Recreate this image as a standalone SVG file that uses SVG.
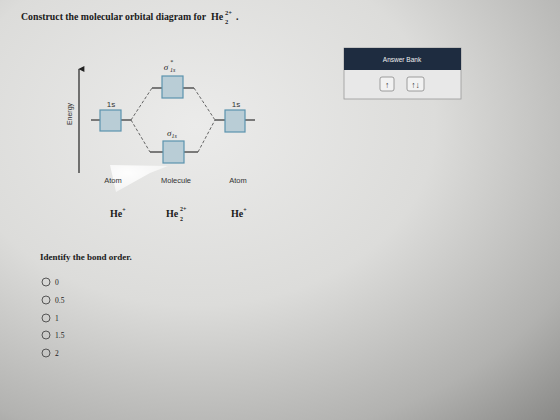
<svg xmlns="http://www.w3.org/2000/svg" width="560" height="420" viewBox="0 0 560 420">
<defs>
<radialGradient id="bg" cx="0.35" cy="0.3" r="0.95">
<stop offset="0" stop-color="#ebebea"/>
<stop offset="0.45" stop-color="#dcdcda"/>
<stop offset="0.8" stop-color="#b2b2b0"/>
<stop offset="1" stop-color="#8a8a88"/>
</radialGradient>
<radialGradient id="glare" cx="0.3" cy="0.3" r="0.8">
<stop offset="0" stop-color="#ffffff" stop-opacity="0.95"/>
<stop offset="1" stop-color="#ffffff" stop-opacity="0.5"/>
</radialGradient>
<marker id="ah" viewBox="0 0 10 10" refX="5" refY="1" markerWidth="6" markerHeight="8" orient="auto-start-reverse" markerUnits="userSpaceOnUse">
<path d="M0,10 L5,0 L10,10 Z" fill="#222"/>
</marker>
<style>
.serif{font-family:"Liberation Serif","Times New Roman",serif;fill:#1a1a1a}
.sans{font-family:"Liberation Sans",Arial,sans-serif;fill:#333}
.box{fill:#b9cdd6;stroke:#5b93ad;stroke-width:1.2}
.lvl{stroke:#555;stroke-width:1.3}
.dash{stroke:#555;stroke-width:0.9;stroke-dasharray:3,2;fill:none}
.radio{fill:none;stroke:#555;stroke-width:1}
.btn{fill:#f2f2f2;stroke:#888;stroke-width:0.8}
</style>
</defs>
<rect x="0" y="0" width="560" height="420" fill="url(#bg)"/>
<text class="serif" x="21" y="20" font-size="9.8" font-weight="bold">Construct the molecular orbital diagram for</text>
<text class="serif" x="211" y="20" font-size="10" font-weight="bold">He</text>
<text class="serif" x="225" y="15" font-size="6.5" font-weight="bold">2+</text>
<text class="serif" x="225" y="24" font-size="6.5" font-weight="bold">2</text>
<text class="serif" x="236" y="20" font-size="10" font-weight="bold">.</text>

<g id="energy-axis">
<line x1="79" y1="173" x2="79" y2="69" stroke="#222" stroke-width="1.2" marker-end="url(#ah)"/>
<text class="sans" x="72" y="114" font-size="7" text-anchor="middle" transform="rotate(-90 72 114)">Energy</text>
</g>

<g id="connectors">
<path class="dash" d="M131,120 L152,88"/>
<path class="dash" d="M131,120 L150,152"/>
<path class="dash" d="M194,88 L215,120"/>
<path class="dash" d="M198,152 L215,120"/>
</g>

<g id="atom-left-1s">
<line class="lvl" x1="91" y1="120" x2="131" y2="120"/>
<rect class="box" x="100" y="110" width="21" height="21"/>
<text class="sans" x="111" y="107" font-size="8" text-anchor="middle">1s</text>
</g>
<g id="sigma-star-1s">
<line class="lvl" x1="152" y1="88" x2="194" y2="88"/>
<rect class="box" x="162" y="76" width="21" height="22"/>
<text class="serif" x="166" y="70" font-size="9" font-style="italic" text-anchor="middle">σ</text>
<text class="serif" x="170" y="64" font-size="6" font-style="italic">*</text>
<text class="serif" x="170" y="72" font-size="6" font-style="italic">1s</text>
</g>
<g id="sigma-1s">
<line class="lvl" x1="150" y1="152" x2="198" y2="152"/>
<rect class="box" x="163" y="141" width="21" height="22"/>
<text class="serif" x="172" y="136" font-size="9" font-style="italic" text-anchor="middle">σ<tspan font-size="6" dy="2">1s</tspan></text>
</g>
<g id="atom-right-1s">
<line class="lvl" x1="215" y1="120" x2="255" y2="120"/>
<rect class="box" x="225" y="110" width="20" height="22"/>
<text class="sans" x="236" y="107" font-size="8" text-anchor="middle">1s</text>
</g>

<polygon points="110,165 168,166 150,173 116,192" fill="url(#glare)"/>

<text class="sans" x="113" y="183" font-size="7.5" text-anchor="middle">Atom</text>
<text class="sans" x="176" y="183" font-size="7.5" text-anchor="middle">Molecule</text>
<text class="sans" x="238" y="183" font-size="7.5" text-anchor="middle">Atom</text>

<text class="serif" x="110" y="217" font-size="10" font-weight="bold">He<tspan font-size="6" dy="-5">+</tspan></text>
<text class="serif" x="166" y="217" font-size="10" font-weight="bold">He</text>
<text class="serif" x="180" y="211" font-size="6" font-weight="bold">2+</text>
<text class="serif" x="180" y="221" font-size="6" font-weight="bold">2</text>
<text class="serif" x="231" y="217" font-size="10" font-weight="bold">He<tspan font-size="6" dy="-5">+</tspan></text>

<text class="serif" x="40" y="260" font-size="9" font-weight="bold">Identify the bond order.</text>
<g id="options">
<circle class="radio" cx="46" cy="282" r="4"/><text class="serif" x="55" y="285" font-size="7.5">0</text>
<circle class="radio" cx="46" cy="300" r="4"/><text class="serif" x="55" y="303" font-size="7.5">0.5</text>
<circle class="radio" cx="46" cy="318" r="4"/><text class="serif" x="55" y="321" font-size="7.5">1</text>
<circle class="radio" cx="46" cy="335" r="4"/><text class="serif" x="55" y="338" font-size="7.5">1.5</text>
<circle class="radio" cx="46" cy="353" r="4"/><text class="serif" x="55" y="356" font-size="7.5">2</text>
</g>

<g id="answer-bank">
<rect x="344" y="48" width="117" height="51" fill="#e8e8e8" stroke="#999" stroke-width="0.8"/>
<rect x="344" y="48" width="117" height="22" fill="#1e2c40"/>
<text x="402" y="62" font-size="6.5" text-anchor="middle" font-family="Liberation Sans,Arial,sans-serif" fill="#f0f0f0">Answer Bank</text>
<rect class="btn" x="380" y="77" width="14" height="14" rx="2"/>
<text class="sans" x="387" y="87.5" font-size="8.5" font-weight="bold" text-anchor="middle">↑</text>
<rect class="btn" x="407" y="77" width="17" height="14" rx="2"/>
<text class="sans" x="415.5" y="87.5" font-size="8.5" font-weight="bold" text-anchor="middle">↑↓</text>
</g>
</svg>
